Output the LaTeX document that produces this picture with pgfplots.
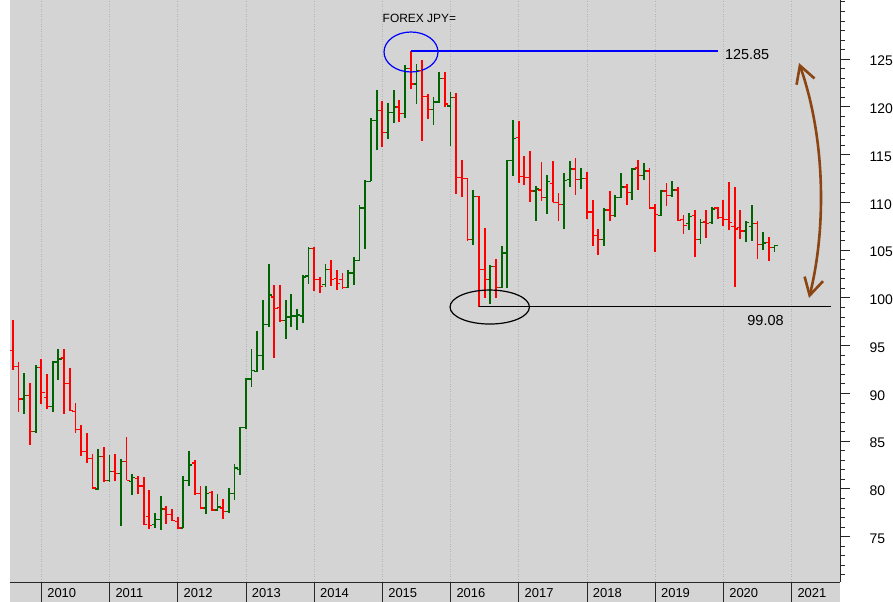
\documentclass[border=0pt]{standalone}
\usepackage{fontspec}
\setmainfont{Liberation Sans}
\usepackage{pgfplots}
\pgfplotsset{compat=1.18}
\usepackage{pgfplotstable}
\usetikzlibrary{arrows.meta}
\definecolor{bg}{RGB}{212,212,212}
\definecolor{gridc}{RGB}{180,180,180}
\definecolor{upc}{RGB}{0,100,0}
\definecolor{dnc}{RGB}{255,0,0}
\definecolor{arrowc}{RGB}{139,69,19}

\pgfdeclareplotmark{tickL}{\pgfpathmoveto{\pgfqpoint{-3.2bp}{0pt}}\pgfpathlineto{\pgfqpoint{0pt}{0pt}}\pgfusepathqstroke}
\pgfdeclareplotmark{tickR}{\pgfpathmoveto{\pgfqpoint{0pt}{0pt}}\pgfpathlineto{\pgfqpoint{3.2bp}{0pt}}\pgfusepathqstroke}

% monthly USD/JPY: year, month, open, high, low, close
\pgfplotstableread{
yr mo o h l c
2009 8 94.5 97.7 92.4 92.8
2009 9 92.8 93.3 88.0 89.4
2009 10 89.4 92.1 87.8 89.8
2009 11 89.8 91.1 84.6 86.0
2009 12 86.0 93.0 85.8 92.7
2010 1 92.7 93.6 88.9 90.1
2010 2 89.6 92.0 88.4 88.6
2010 3 88.6 93.4 88.0 93.3
2010 4 93.3 94.6 91.4 93.6
2010 5 93.7 94.7 87.8 91.0
2010 6 91.0 92.7 88.2 88.2
2010 7 88.1 89.0 85.8 86.2
2010 8 86.2 86.7 83.4 83.9
2010 9 83.9 85.8 82.7 83.2
2010 10 83.2 83.7 80.1 80.1
2010 11 80.0 84.2 79.9 83.4
2010 12 83.4 84.4 80.7 80.9
2011 1 80.9 83.5 80.7 81.8
2011 2 81.8 83.7 80.8 81.6
2011 3 81.6 83.1 76.1 82.9
2011 4 82.9 85.4 80.9 80.9
2011 5 80.8 81.6 79.4 81.2
2011 6 81.1 81.3 79.5 80.3
2011 7 80.3 81.2 76.2 76.3
2011 8 77.1 79.9 75.8 76.2
2011 9 76.3 77.5 75.9 76.8
2011 10 76.8 79.3 75.7 77.9
2011 11 77.9 78.2 76.3 77.3
2011 12 77.3 77.9 76.6 76.7
2012 1 76.6 77.1 75.8 75.9
2012 2 75.9 81.3 75.9 80.9
2012 3 80.9 84.0 80.3 82.5
2012 4 82.7 83.0 79.4 79.5
2012 5 79.5 80.3 77.9 78.0
2012 6 78.0 80.3 77.4 79.5
2012 7 79.6 79.8 77.7 77.8
2012 8 77.8 79.5 77.7 78.1
2012 9 78.0 78.9 76.8 77.6
2012 10 77.6 80.1 77.5 79.5
2012 11 79.5 82.6 78.8 82.2
2012 12 82.0 86.5 81.5 86.4
2013 1 86.4 91.6 86.3 91.5
2013 2 91.5 94.6 90.7 92.4
2013 3 92.3 96.5 92.2 94.0
2013 4 94.0 99.8 92.4 97.2
2013 5 97.2 103.5 96.9 100.3
2013 6 100.1 101.4 93.7 98.9
2013 7 99.0 101.4 97.5 97.6
2013 8 97.6 99.8 95.7 98.0
2013 9 98.0 100.4 97.0 98.1
2013 10 98.1 98.8 96.6 98.2
2013 11 98.1 102.4 97.4 102.2
2013 12 102.3 105.3 101.5 105.2
2014 1 105.2 105.3 100.7 101.9
2014 2 101.9 102.2 100.5 101.2
2014 3 101.4 103.5 101.1 103.0
2014 4 103.0 104.0 101.2 101.9
2014 5 102.0 102.9 100.8 101.5
2014 6 101.9 102.6 100.9 101.1
2014 7 101.1 102.9 101.0 102.6
2014 8 102.6 104.3 101.4 103.9
2014 9 103.9 109.7 103.9 109.4
2014 10 109.4 112.3 105.1 112.2
2014 11 112.2 118.8 112.2 118.6
2014 12 118.6 121.8 115.5 119.6
2015 1 119.6 120.6 115.8 117.3
2015 2 117.3 120.4 116.6 119.4
2015 3 119.4 121.8 118.3 120.0
2015 4 120.0 120.7 118.4 119.3
2015 5 119.3 124.4 118.8 124.0
2015 6 124.0 125.85 121.9 122.4
2015 7 122.4 124.5 120.3 123.8
2015 8 123.8 124.9 116.4 121.1
2015 9 121.1 121.3 118.7 119.7
2015 10 119.7 121.0 118.1 120.5
2015 11 120.5 123.6 120.4 123.0
2015 12 123.0 123.6 120.0 120.3
2016 1 120.1 121.6 115.9 121.0
2016 2 121.0 121.4 110.9 112.6
2016 3 112.6 114.4 110.6 112.5
2016 4 112.5 112.5 106.0 106.1
2016 5 106.1 111.3 105.5 110.6
2016 6 110.6 110.7 99.08 103.0
2016 7 103.0 107.3 100.0 101.9
2016 8 101.9 103.4 99.4 103.3
2016 9 103.3 104.1 100.0 101.1
2016 10 101.1 105.4 101.0 104.7
2016 11 104.7 114.4 101.0 114.4
2016 12 114.4 118.6 112.8 116.7
2017 1 116.8 118.5 112.0 112.7
2017 2 112.7 114.9 111.8 112.6
2017 3 112.6 115.4 110.0 111.2
2017 4 111.2 111.7 108.0 111.4
2017 5 111.3 114.2 110.1 110.5
2017 6 110.5 112.9 108.8 112.2
2017 7 112.0 114.3 110.0 110.0
2017 8 110.0 111.0 108.1 109.8
2017 9 109.8 113.1 107.2 112.3
2017 10 112.4 114.3 111.6 113.5
2017 11 113.5 114.6 110.8 112.4
2017 12 112.4 113.6 111.4 112.5
2018 1 112.5 113.2 108.3 109.0
2018 2 109.0 110.3 105.4 106.5
2018 3 106.5 107.2 104.5 106.1
2018 4 106.1 109.4 105.4 109.2
2018 5 109.2 111.2 108.1 108.6
2018 6 108.6 110.8 108.5 110.5
2018 7 110.5 113.1 110.5 111.6
2018 8 111.6 111.9 109.7 111.0
2018 9 111.0 113.6 110.3 113.5
2018 10 113.6 114.4 111.3 112.8
2018 11 112.8 114.1 112.3 113.3
2018 12 113.3 113.6 109.3 109.4
2019 1 109.4 109.8 104.8 108.7
2019 2 108.6 111.3 108.6 111.2
2019 3 111.2 112.0 109.6 110.7
2019 4 110.7 112.2 110.6 111.3
2019 5 111.3 111.6 108.0 108.1
2019 6 108.2 108.7 106.7 107.6
2019 7 107.8 108.9 107.1 108.5
2019 8 108.6 109.2 104.3 106.1
2019 9 106.1 108.3 105.6 107.9
2019 10 107.95 109.2 106.3 107.8
2019 11 107.9 109.55 107.7 109.3
2019 12 109.4 109.55 108.3 108.4
2020 1 108.4 110.2 107.5 108.2
2020 2 108.2 112.1 107.1 107.9
2020 3 107.5 111.6 101.1 107.2
2020 4 107.35 109.2 106.2 107.0
2020 5 107.0 108.0 105.8 107.9
2020 6 107.5 109.7 106.0 107.8
2020 7 107.8 108.0 104.1 105.6
2020 8 105.6 106.9 105.0 105.75
2020 9 105.8 106.4 103.9 105.3
2020 10 105.3 105.55 104.85 105.45
}\fx

\pgfplotsset{
  up/.style={restrict expr to domain={\thisrow{c}-\thisrow{o}}{0:100}},
  dn/.style={restrict expr to domain={\thisrow{c}-\thisrow{o}}{-100:-0.00001}},
  hl/.style={draw=none, mark=none, unbounded coords=discard,
    error bars/.cd, y dir=both, y explicit, error mark=none,
    error bar style={draw=#1, line width=1.8bp, line cap=butt}},
  oc/.style={only marks, unbounded coords=discard, mark options={draw=#1, line width=1.3bp, line cap=butt}},
}

\begin{document}
\begin{tikzpicture}
\useasboundingbox (-10bp,-20bp) rectangle (883bp,582bp);
\fill[white] (-10bp,-20bp) rectangle (883bp,582bp);
\fill[bg] (0,-20bp) rectangle (830bp,0);
\begin{axis}[
  at={(0,0)}, anchor=south west,
  scale only axis, width=830bp, height=582bp,
  xmin=6.492, xmax=152.532, ymin=70.25, ymax=131.19,
  axis background/.style={fill=bg},
  axis x line=bottom, axis y line=right,
  axis line style={-, black!85, line width=0.8bp},
  tick align=outside,
  xtick={12,24,...,144},
  xticklabels={2010,2011,2012,2013,2014,2015,2016,2017,2018,2019,2020,2021},
  xtick style={draw=none},
  xmajorgrids,
  major x grid style={gridc, line width=0.8bp, dash pattern=on 1bp off 1.5bp},
  ytick={75,80,...,125},
  minor ytick={70,...,131},
  major tick length=10bp, minor tick length=5bp,
  ytick style={black!85, line width=0.8bp},
  /pgf/number format/assume math mode=true,
  xticklabel style={font=\fontsize{13}{15}\selectfont, anchor=west, xshift=2.5bp, yshift=-1bp},
  yticklabel style={font=\fontsize{14}{16}\selectfont, anchor=west, xshift=16bp, yshift=-2bp},
  clip=false,
]
% x = months since January 2009
% rising months: high-low bar, open tick, close tick
\addplot[up, hl=upc] table[x expr=(\thisrow{yr}-2009)*12+\thisrow{mo}-1, y expr=(\thisrow{h}+\thisrow{l})/2, y error expr=(\thisrow{h}-\thisrow{l})/2] {\fx};
\addplot[up, oc=upc, mark=tickL] table[x expr=(\thisrow{yr}-2009)*12+\thisrow{mo}-1, y=o] {\fx};
\addplot[up, oc=upc, mark=tickR] table[x expr=(\thisrow{yr}-2009)*12+\thisrow{mo}-1, y=c] {\fx};
% falling months
\addplot[dn, hl=dnc] table[x expr=(\thisrow{yr}-2009)*12+\thisrow{mo}-1, y expr=(\thisrow{h}+\thisrow{l})/2, y error expr=(\thisrow{h}-\thisrow{l})/2] {\fx};
\addplot[dn, oc=dnc, mark=tickL] table[x expr=(\thisrow{yr}-2009)*12+\thisrow{mo}-1, y=o] {\fx};
\addplot[dn, oc=dnc, mark=tickR] table[x expr=(\thisrow{yr}-2009)*12+\thisrow{mo}-1, y=c] {\fx};

% year separators in the date strip
\pgfplotsinvokeforeach{12,24,...,144}{\draw[black!85, line width=0.8bp] (axis cs:#1,70.25) -- ++(0bp,-20bp);}

% title
\node[anchor=base west, font=\fontsize{12}{14}\selectfont] at (axis cs:71.45,128.83) {FOREX JPY=};

% high annotation
\draw[blue, line width=1.1bp] (axis cs:77,125.85) -- (axis cs:131.06,125.85);
\draw[blue, line width=1.2bp] (axis cs:77.05,125.745) ellipse [x radius=27bp, y radius=20bp];
\node[font=\fontsize{14.5}{16}\selectfont] at (axis cs:136.2,125.43) {125.85};

% low annotation
\draw[black, line width=1.1bp] (axis cs:89,99.08) -- (axis cs:150.95,99.08);
\draw[black, line width=1.2bp] (axis cs:90.9,99.04) ellipse [x radius=39.7bp, y radius=17bp];
\node[font=\fontsize{14.5}{16}\selectfont] at (axis cs:139.43,97.58) {99.08};

% range arrow
\draw[arrowc, line width=2.6bp, {Straight Barb[length=17bp,width=19bp]}-{Straight Barb[length=17bp,width=19bp]}]
  (axis cs:145.32,124.59) .. controls (axis cs:150.07,116.53) and (axis cs:150.07,107.11) .. (axis cs:147.08,99.99);
\end{axis}
\end{tikzpicture}
\end{document}
